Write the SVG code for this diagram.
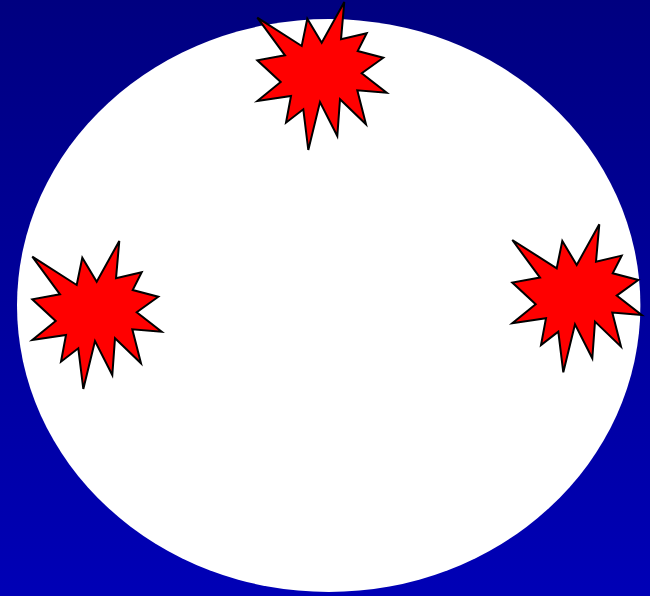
<svg xmlns="http://www.w3.org/2000/svg" width="650" height="596" viewBox="0 0 650 596">
<defs>
<linearGradient id="bg" x1="0" y1="0" x2="0" y2="1">
<stop offset="0" stop-color="#000080"/>
<stop offset="1" stop-color="#0000B6"/>
</linearGradient>
<path id="burst" d="M32.3,256.7 L76.7,285 L82.3,257.7 L96.7,281.7 L119.3,241 L116,278.3 L141.7,272.3 L132.7,290 L158.3,296.7 L136.7,312.3 L161.7,331.7 L132.3,329.3 L141,363.3 L115,338.3 L112.3,375 L95,341 L83.3,389 L78.3,348.3 L61,361.7 L66,335 L32.3,340 L55.7,321 L32.3,299.3 L60,294.3 Z"/>
</defs>
<style>
.burst { fill: #FF0000; stroke: #000000; stroke-width: 2; stroke-linejoin: miter; }
</style>
<rect x="0" y="0" width="650" height="596" fill="url(#bg)"/>
<ellipse id="oval" cx="328.7" cy="305.5" rx="311.7" ry="286.5" fill="#FFFFFF"/>
<g id="burst-top"><use href="#burst" class="burst" transform="translate(225,-239)"/></g>
<g id="burst-left"><use href="#burst" class="burst"/></g>
<g id="burst-right"><use href="#burst" class="burst" transform="translate(480,-16.7)"/></g>
</svg>
